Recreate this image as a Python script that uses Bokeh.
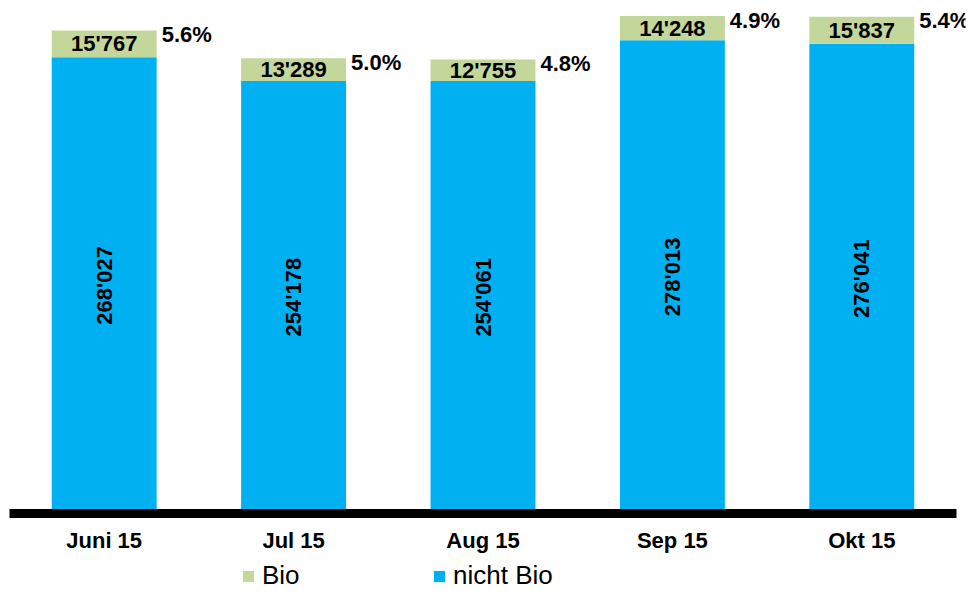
import math
from bokeh.plotting import figure
from bokeh.models import ColumnDataSource, Range1d, FactorRange, Legend, LegendItem
from bokeh.transform import dodge
from bokeh.core.properties import value
from bokeh.embed import file_html
from bokeh.resources import INLINE

months = ["Juni 15", "Jul 15", "Aug 15", "Sep 15", "Okt 15"]
nicht_bio = [268027, 254178, 254061, 278013, 276041]
bio = [15767, 13289, 12755, 14248, 15837]

BLUE = "#00B0F0"
GREEN = "#C4D79B"
FONT = "Liberation Sans"

def fmt(v):
    return f"{v:,}".replace(",", "'")

totals = [a + b for a, b in zip(nicht_bio, bio)]
pct = [f"{b / t * 100:.1f}%" for b, t in zip(bio, totals)]

src = ColumnDataSource(dict(
    month=months,
    nb=nicht_bio,
    bio=bio,
    total=totals,
    nb_mid=[a / 2 for a in nicht_bio],
    bio_mid=[a + b / 2 for a, b in zip(nicht_bio, bio)],
    nb_lbl=[fmt(v) for v in nicht_bio],
    bio_lbl=[fmt(v) for v in bio],
    pct=pct,
))

p = figure(x_range=FactorRange(factors=months, range_padding=0.019),
           y_range=Range1d(-45830, 301410),
           frame_width=965, frame_height=591,
           min_border_left=0, min_border_right=3, min_border_top=0, min_border_bottom=0,
           output_backend="svg", toolbar_location=None)

BW = 0.554
r_nb = p.vbar(x="month", bottom=0, top="nb", width=BW, color=BLUE, line_color=None, source=src)
r_bio = p.vbar(x="month", bottom="nb", top="total", width=BW, color=GREEN, line_color=None, source=src)

p.text(x="month", y="nb_mid", text="nb_lbl", source=src, angle=math.pi / 2,
       text_align="center", text_baseline="middle", text_font=value(FONT),
       text_font_size="22px", text_font_style="bold", text_color="black")
p.text(x="month", y="bio_mid", text="bio_lbl", source=src,
       text_align="center", text_baseline="middle", text_font=value(FONT),
       text_font_size="22px", text_font_style="bold", text_color="black")
p.text(x=dodge("month", BW / 2, range=p.x_range), y="total", text="pct", source=src,
       x_offset=5, y_offset=4,
       text_align="left", text_baseline="middle", text_font=value(FONT),
       text_font_size="22px", text_font_style="bold", text_color="black")

p.yaxis.visible = False
p.xgrid.visible = False
p.ygrid.visible = False
p.outline_line_color = None

ax = p.xaxis[0]
ax.fixed_location = 0
ax.bounds = (0, 5)
ax.axis_line_width = 9
ax.axis_line_color = "black"
ax.major_tick_line_color = None
ax.minor_tick_line_color = None
ax.major_label_standoff = 9
ax.major_label_text_font = FONT
ax.major_label_text_font_size = "22px"
ax.major_label_text_font_style = "bold"
ax.major_label_text_color = "black"

legend = Legend(items=[LegendItem(label="Bio", renderers=[r_bio]),
                       LegendItem(label="nicht Bio", renderers=[r_nb])],
                orientation="horizontal", location=(241, 0),
                margin=0, padding=0, spacing=0,
                glyph_width=14, glyph_height=14, label_standoff=7, label_width=170,
                label_text_font=FONT, label_text_font_size="26px", label_text_color="black",
                border_line_alpha=0, background_fill_alpha=0)
p.add_layout(legend)

open("out.html", "w").write(file_html(p, INLINE))
